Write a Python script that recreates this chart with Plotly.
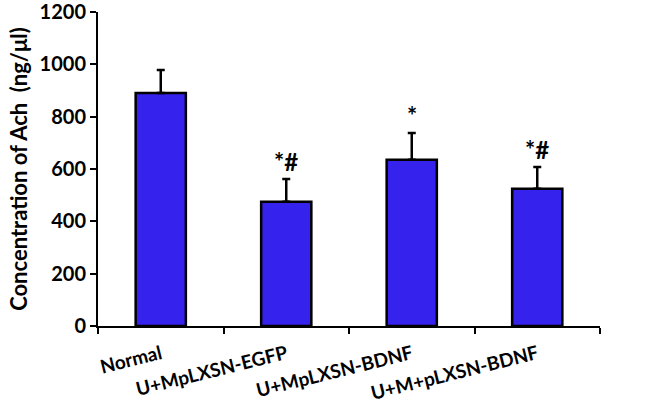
import plotly.graph_objects as go

categories = ["Normal", "U+MpLXSN-EGFP", "U+MpLXSN-BDNF", "U+M+pLXSN-BDNF"]
means = [890, 475, 635, 525]
errors = [88, 87, 103, 83]
sig_labels = ["", "*#", "*", "*#"]
y_ticks = [0, 200, 400, 600, 800, 1000, 1200]

FONT = "Lato"
BAR = "#3522EC"

fig = go.Figure()
fig.add_trace(go.Bar(
    x=categories, y=means, width=0.4,
    marker=dict(color=BAR, line=dict(color="black", width=2.5)),
    error_y=dict(type="data", array=errors, arrayminus=[0]*len(errors),
                 symmetric=False, color="black", thickness=2.5, width=4),
))

for c, m, e, s in zip(categories, means, errors, sig_labels):
    if s:
        fig.add_annotation(x=c, y=m + e, text="<b>" + s + "</b>", showarrow=False,
                           yanchor="bottom", yshift=1,
                           font=dict(family=FONT, size=24, color="black"))

fig.update_layout(
    width=660, height=405,
    margin=dict(l=98, r=60, t=12, b=79),
    plot_bgcolor="white", paper_bgcolor="white",
    showlegend=False,
    font=dict(family=FONT, color="black"),
)
fig.update_xaxes(
    automargin=False,
    showline=True, linecolor="black", linewidth=2,
    ticks="outside", ticklen=6, tickwidth=2, tickcolor="black",
    tickson="boundaries", tickangle=-14, ticklabelstandoff=8,
    tickfont=dict(family=FONT, size=19, color="black", weight="bold"),
    showgrid=False,
)
fig.update_yaxes(
    automargin=False, ticklabeloverflow="allow",
    range=[0, 1200], tickvals=y_ticks,
    showline=True, linecolor="black", linewidth=2,
    ticks="outside", ticklen=6, tickwidth=2, tickcolor="black",
    tickfont=dict(family=FONT, size=20, color="black", weight="bold"),
    showgrid=False, zeroline=False,
    title=dict(text="<b>Concentration of Ach  (ng/μl)</b>",
               font=dict(family=FONT, size=22, color="black"), standoff=6),
)

fig.write_html("out.html", config={"displayModeBar": False},
               post_script="document.body.style.margin='0';")
